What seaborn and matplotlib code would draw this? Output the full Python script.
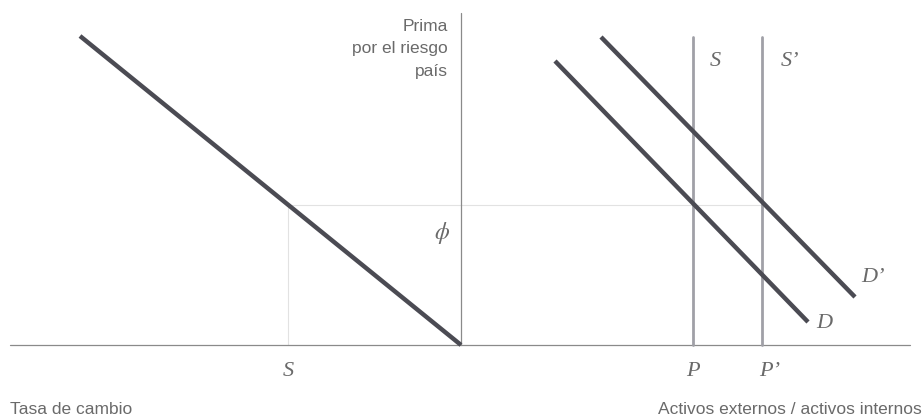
import matplotlib
matplotlib.use("Agg")
import matplotlib.pyplot as plt
import seaborn as sns
import pandas as pd

# diagram coordinates: origin where the two axes cross
# left panel: exchange rate grows to the left (negative x)
curve_x = [-381, 0]
curve_y = [309, 0]

d_x = [94, 347]
d_y = [284, 23]
d2_x = [140, 394]
d2_y = [308, 48]

s_pos = 232
s2_pos = 301
s_top = 308

phi = 140
s_rate = -173

sns.set_style("white")
plt.rcParams['font.family'] = ['Liberation Sans Narrow', 'Liberation Sans', 'DejaVu Sans']
plt.rcParams['mathtext.fontset'] = 'stix'

fig = plt.figure(figsize=(9.24, 4.2), dpi=100)
ax = fig.add_axes([0, 0, 1, 1])
ax.set_xlim(-461, 463)
ax.set_ylim(-75, 345)
ax.axis("off")

dark = "#4b4b53"
mid = "#a0a0a7"
axis_c = "#8a8a8a"
guide = "#e2e2e2"
txt = "#6a6a6a"

# axes
ax.plot([-451, 449], [0, 0], color=axis_c, lw=0.9, zorder=1)
ax.plot([0, 0], [0, 332], color=axis_c, lw=0.9, zorder=1)

# guide lines
ax.plot([s_rate, s2_pos], [phi, phi], color=guide, lw=0.8, zorder=0)
ax.plot([s_rate, s_rate], [0, phi], color=guide, lw=0.8, zorder=0)

lines = pd.DataFrame({
    "x": curve_x + d_x + d2_x,
    "y": curve_y + d_y + d2_y,
    "curva": ["L"] * 2 + ["D"] * 2 + ["D'"] * 2,
})
sns.lineplot(data=lines, x="x", y="y", units="curva", estimator=None,
             color=dark, lw=3.2, ax=ax, solid_capstyle="butt", zorder=3)

for xp in (s_pos, s2_pos):
    ax.plot([xp, xp], [0, s_top], color=mid, lw=2.0, zorder=2)

serif = dict(family="Liberation Serif", style="italic", color=txt, fontsize=16)
ax.text(s_rate, -27, "S", ha="center", va="center", **serif)
ax.text(-19, 112, r"$\phi$", ha="center", va="center", color=txt, fontsize=17)
ax.text(s_pos + 22, 283, "S", ha="center", va="center", **serif)
ax.text(s2_pos + 28, 283, "S’", ha="center", va="center", **serif)
ax.text(d_x[1] + 16, 22, "D", ha="center", va="center", **serif)
ax.text(d2_x[1] + 18, 67, "D’", ha="center", va="center", **serif)
ax.text(s_pos, -27, "P", ha="center", va="center", **serif)
ax.text(s2_pos + 8, -27, "P’", ha="center", va="center", **serif)

ax.text(-13, 296, "Prima\npor el riesgo\npaís", ha="right", va="center",
        color=txt, fontsize=12.5, linespacing=1.65)
ax.text(-451, -65, "Tasa de cambio", ha="left", va="center", color=txt, fontsize=12.5)
ax.text(461, -65, "Activos externos / activos internos", ha="right", va="center",
        color=txt, fontsize=12.5)

fig.savefig("out.png", dpi=100)
